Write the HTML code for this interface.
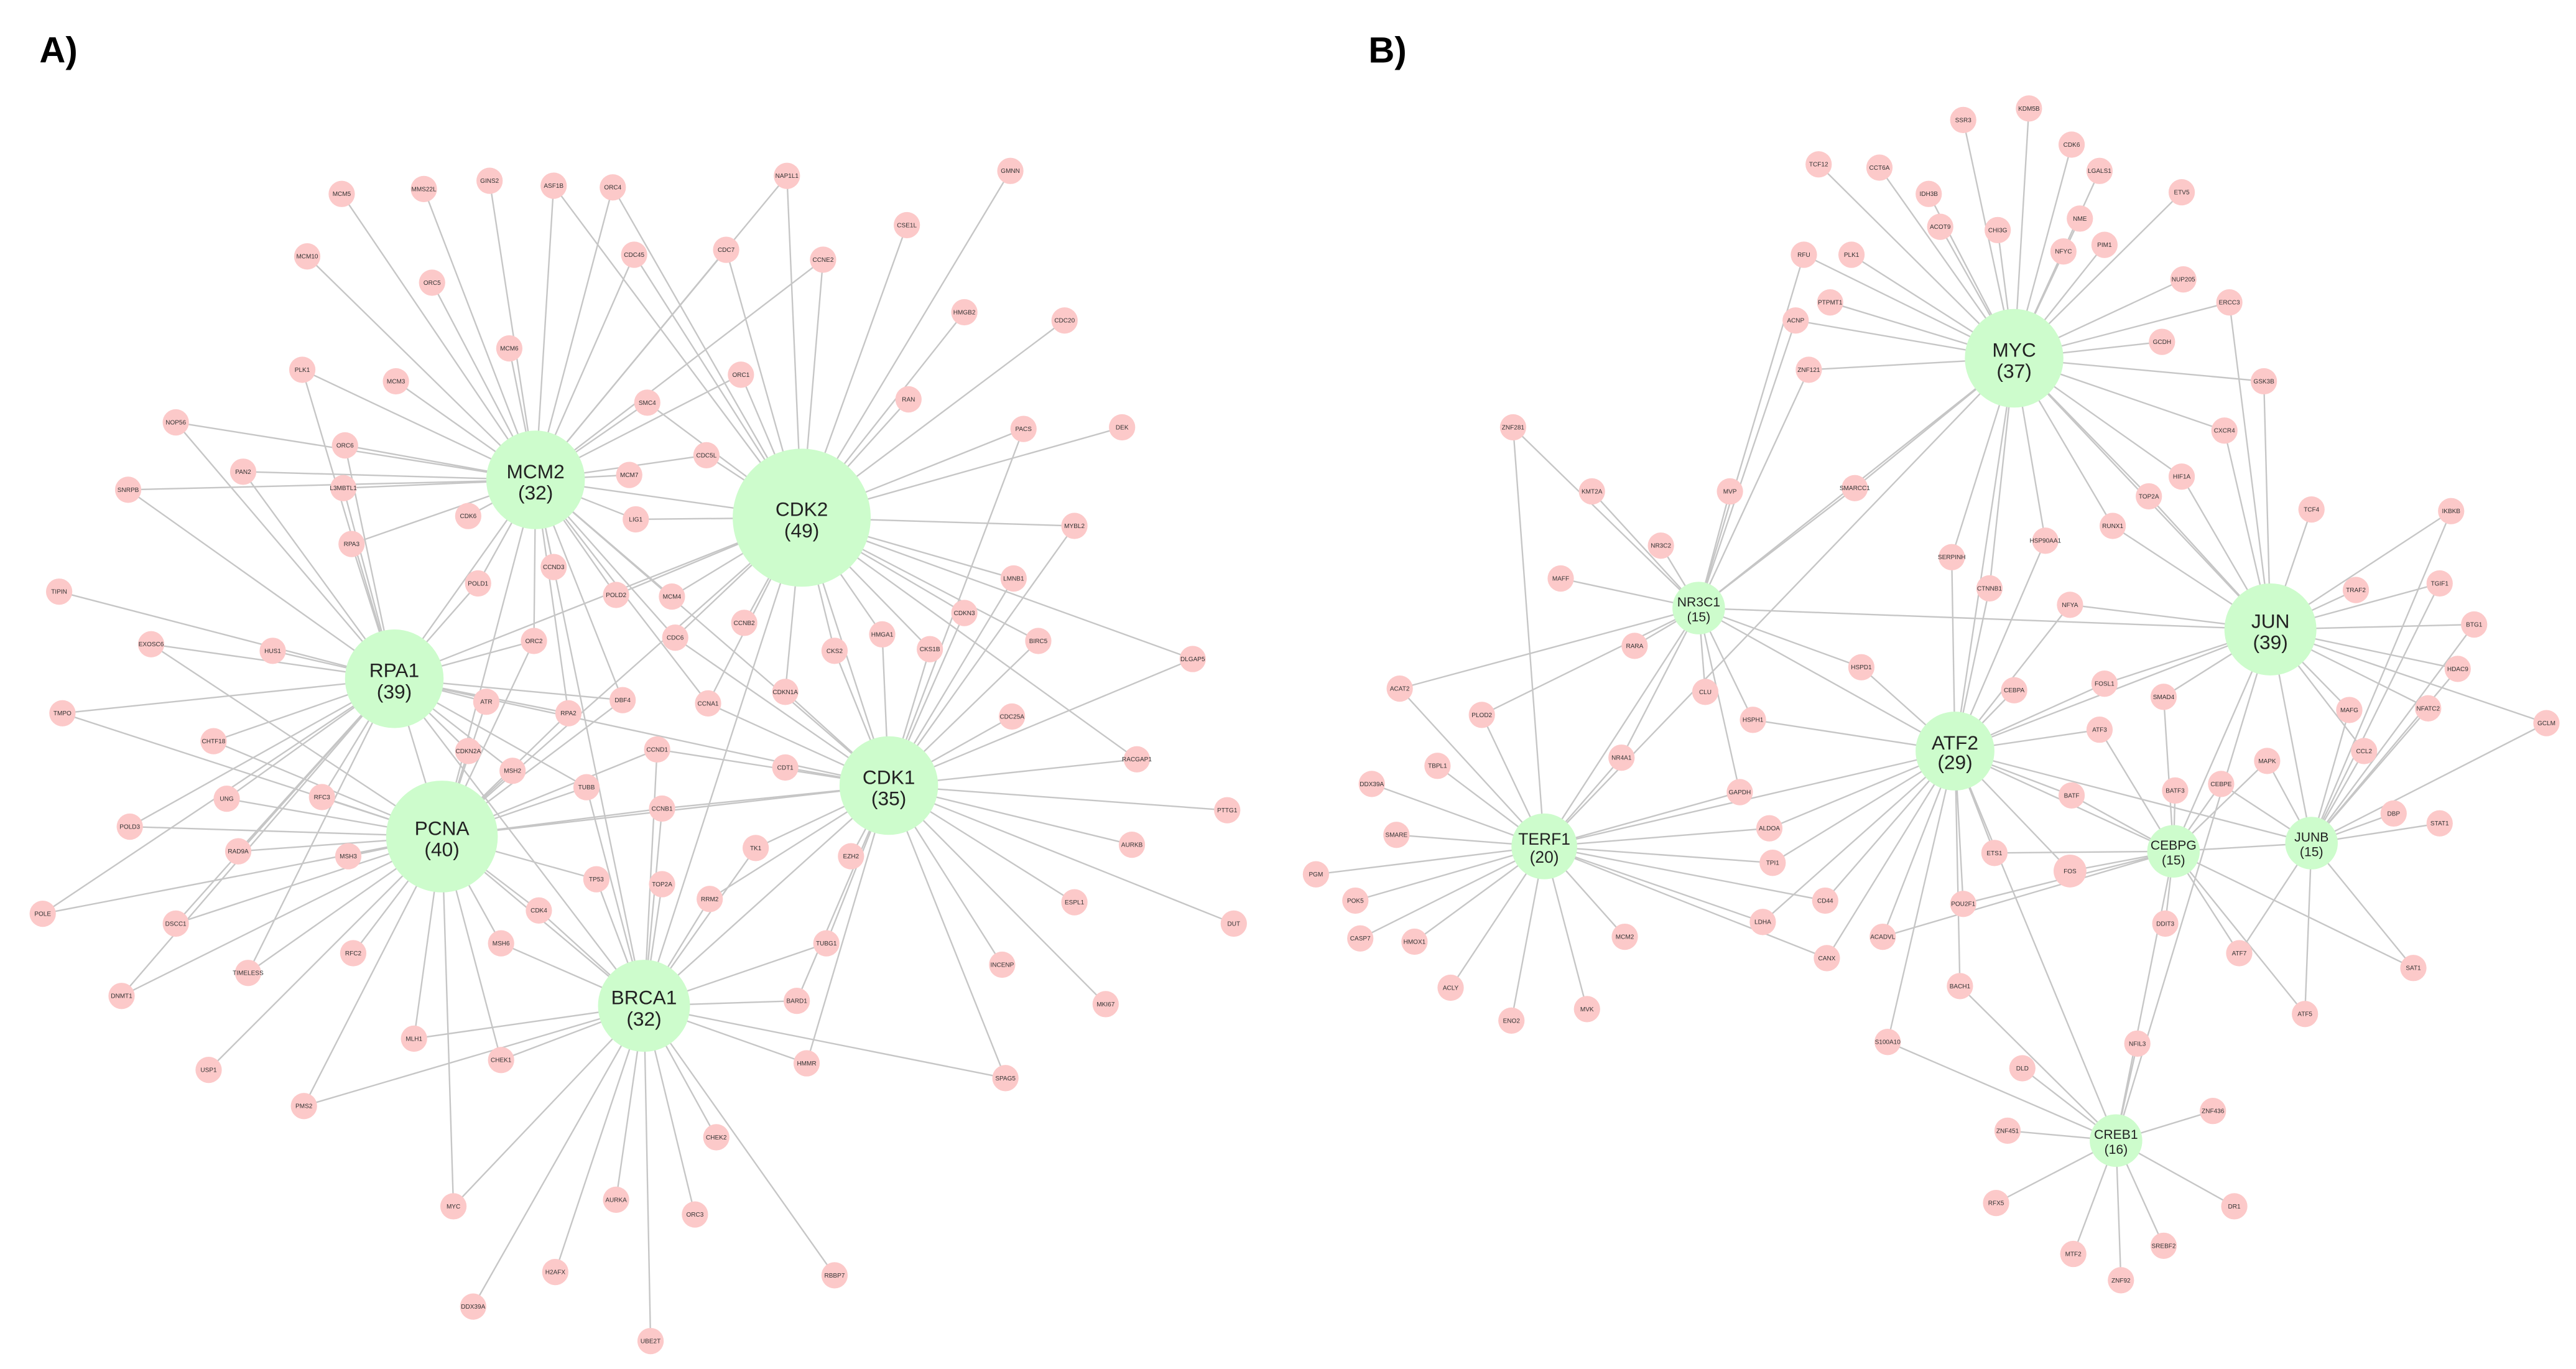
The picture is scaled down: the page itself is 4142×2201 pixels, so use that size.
<!DOCTYPE html>
<html><head><meta charset="utf-8"><style>
html,body{margin:0;padding:0;background:#fff}
svg{display:block}
.l circle{fill:#fcc9c9}
.h circle{fill:#cdfccc}
text{font-family:"Liberation Sans",sans-serif;text-anchor:middle;fill:#333}
.l text{font-size:3.8px}
.h text{font-size:12px;fill:#222}
.t{font-size:22px;font-weight:bold;text-anchor:start;fill:#000}
#e line{stroke:#c6c6c6;stroke-width:0.9}
</style></head><body>
<svg id="s" width="4142" height="2201" viewBox="0 0 1568 833" preserveAspectRatio="none" xmlns="http://www.w3.org/2000/svg">
<text class="t" x="24" y="38">A)</text>
<text class="t" x="833" y="38">B)</text>
<g id="e"></g>
<g id="n">
<!-- Panel A leaves -->
<g class="l a" transform="translate(208,118)"><circle r="8"/><text y="1.3">MCM5</text></g>
<g class="l a" transform="translate(258,115)"><circle r="8"/><text y="1.3">MMS22L</text></g>
<g class="l a" transform="translate(298,110)"><circle r="8"/><text y="1.3">GINS2</text></g>
<g class="l a" transform="translate(337,113)"><circle r="8"/><text y="1.3">ASF1B</text></g>
<g class="l a" transform="translate(373,114)"><circle r="8"/><text y="1.3">ORC4</text></g>
<g class="l a" transform="translate(479,107)"><circle r="8"/><text y="1.3">NAP1L1</text></g>
<g class="l a" transform="translate(615,104)"><circle r="8"/><text y="1.3">GMNN</text></g>
<g class="l a" transform="translate(187,156)"><circle r="8"/><text y="1.3">MCM10</text></g>
<g class="l a" transform="translate(263,172)"><circle r="8"/><text y="1.3">ORC5</text></g>
<g class="l a" transform="translate(386,155)"><circle r="8"/><text y="1.3">CDC45</text></g>
<g class="l a" transform="translate(442,152)"><circle r="8"/><text y="1.3">CDC7</text></g>
<g class="l a" transform="translate(501,158)"><circle r="8"/><text y="1.3">CCNE2</text></g>
<g class="l a" transform="translate(552,137)"><circle r="8"/><text y="1.3">CSE1L</text></g>
<g class="l a" transform="translate(587,190)"><circle r="8"/><text y="1.3">HMGB2</text></g>
<g class="l a" transform="translate(648,195)"><circle r="8"/><text y="1.3">CDC20</text></g>
<g class="l a" transform="translate(310,212)"><circle r="8"/><text y="1.3">MCM6</text></g>
<g class="l a" transform="translate(184,225)"><circle r="8"/><text y="1.3">PLK1</text></g>
<g class="l a" transform="translate(241,232)"><circle r="8"/><text y="1.3">MCM3</text></g>
<g class="l a" transform="translate(394,245)"><circle r="8"/><text y="1.3">SMC4</text></g>
<g class="l a" transform="translate(451,228)"><circle r="8"/><text y="1.3">ORC1</text></g>
<g class="l a" transform="translate(553,243)"><circle r="8"/><text y="1.3">RAN</text></g>
<g class="l a" transform="translate(107,257)"><circle r="8"/><text y="1.3">NOP56</text></g>
<g class="l a" transform="translate(210,271)"><circle r="8"/><text y="1.3">ORC6</text></g>
<g class="l a" transform="translate(430,277)"><circle r="8"/><text y="1.3">CDC5L</text></g>
<g class="l a" transform="translate(148,287)"><circle r="8"/><text y="1.3">PAN2</text></g>
<g class="l a" transform="translate(623,261)"><circle r="8"/><text y="1.3">PACS</text></g>
<g class="l a" transform="translate(683,260)"><circle r="8"/><text y="1.3">DEK</text></g>
<g class="l a" transform="translate(78,298)"><circle r="8"/><text y="1.3">SNRPB</text></g>
<g class="l a" transform="translate(209,297)"><circle r="8"/><text y="1.3">L3MBTL1</text></g>
<g class="l a" transform="translate(383,289)"><circle r="8"/><text y="1.3">MCM7</text></g>
<g class="l a" transform="translate(387,316)"><circle r="8"/><text y="1.3">LIG1</text></g>
<g class="l a" transform="translate(285,314)"><circle r="8"/><text y="1.3">CDK6</text></g>
<g class="l a" transform="translate(654,320)"><circle r="8"/><text y="1.3">MYBL2</text></g>
<g class="l a" transform="translate(214,331)"><circle r="8"/><text y="1.3">RPA3</text></g>
<g class="l a" transform="translate(291,355)"><circle r="8"/><text y="1.3">POLD1</text></g>
<g class="l a" transform="translate(337,345)"><circle r="8"/><text y="1.3">CCND3</text></g>
<g class="l a" transform="translate(375,362)"><circle r="8"/><text y="1.3">POLD2</text></g>
<g class="l a" transform="translate(409,363)"><circle r="8"/><text y="1.3">MCM4</text></g>
<g class="l a" transform="translate(617,352)"><circle r="8"/><text y="1.3">LMNB1</text></g>
<g class="l a" transform="translate(36,360)"><circle r="8"/><text y="1.3">TIPIN</text></g>
<g class="l a" transform="translate(166,396)"><circle r="8"/><text y="1.3">HUS1</text></g>
<g class="l a" transform="translate(92,392)"><circle r="8"/><text y="1.3">EXOSC6</text></g>
<g class="l a" transform="translate(411,388)"><circle r="8"/><text y="1.3">CDC6</text></g>
<g class="l a" transform="translate(453,379)"><circle r="8"/><text y="1.3">CCNB2</text></g>
<g class="l a" transform="translate(537,386)"><circle r="8"/><text y="1.3">HMGA1</text></g>
<g class="l a" transform="translate(587,373)"><circle r="8"/><text y="1.3">CDKN3</text></g>
<g class="l a" transform="translate(325,390)"><circle r="8"/><text y="1.3">ORC2</text></g>
<g class="l a" transform="translate(508,396)"><circle r="8"/><text y="1.3">CKS2</text></g>
<g class="l a" transform="translate(566,395)"><circle r="8"/><text y="1.3">CKS1B</text></g>
<g class="l a" transform="translate(632,390)"><circle r="8"/><text y="1.3">BIRC5</text></g>
<g class="l a" transform="translate(726,401)"><circle r="8"/><text y="1.3">DLGAP5</text></g>
<g class="l a" transform="translate(38,434)"><circle r="8"/><text y="1.3">TMPO</text></g>
<g class="l a" transform="translate(296,427)"><circle r="8"/><text y="1.3">ATR</text></g>
<g class="l a" transform="translate(346,434)"><circle r="8"/><text y="1.3">RPA2</text></g>
<g class="l a" transform="translate(379,426)"><circle r="8"/><text y="1.3">DBF4</text></g>
<g class="l a" transform="translate(431,428)"><circle r="8"/><text y="1.3">CCNA1</text></g>
<g class="l a" transform="translate(478,421)"><circle r="8"/><text y="1.3">CDKN1A</text></g>
<g class="l a" transform="translate(616,436)"><circle r="8"/><text y="1.3">CDC25A</text></g>
<g class="l a" transform="translate(130,451)"><circle r="8"/><text y="1.3">CHTF18</text></g>
<g class="l a" transform="translate(285,457)"><circle r="8"/><text y="1.3">CDKN2A</text></g>
<g class="l a" transform="translate(312,469)"><circle r="8"/><text y="1.3">MSH2</text></g>
<g class="l a" transform="translate(400,456)"><circle r="8"/><text y="1.3">CCND1</text></g>
<g class="l a" transform="translate(478,467)"><circle r="8"/><text y="1.3">CDT1</text></g>
<g class="l a" transform="translate(138,486)"><circle r="8"/><text y="1.3">UNG</text></g>
<g class="l a" transform="translate(196,485)"><circle r="8"/><text y="1.3">RFC3</text></g>
<g class="l a" transform="translate(357,479)"><circle r="8"/><text y="1.3">TUBB</text></g>
<g class="l a" transform="translate(403,492)"><circle r="8"/><text y="1.3">CCNB1</text></g>
<g class="l a" transform="translate(692,462)"><circle r="8"/><text y="1.3">RACGAP1</text></g>
<g class="l a" transform="translate(747,493)"><circle r="8"/><text y="1.3">PTTG1</text></g>
<g class="l a" transform="translate(79,503)"><circle r="8"/><text y="1.3">POLD3</text></g>
<g class="l a" transform="translate(145,518)"><circle r="8"/><text y="1.3">RAD9A</text></g>
<g class="l a" transform="translate(212,521)"><circle r="8"/><text y="1.3">MSH3</text></g>
<g class="l a" transform="translate(460,516)"><circle r="8"/><text y="1.3">TK1</text></g>
<g class="l a" transform="translate(518,521)"><circle r="8"/><text y="1.3">EZH2</text></g>
<g class="l a" transform="translate(689,514)"><circle r="8"/><text y="1.3">AURKB</text></g>
<g class="l a" transform="translate(363,535)"><circle r="8"/><text y="1.3">TP53</text></g>
<g class="l a" transform="translate(403,538)"><circle r="8"/><text y="1.3">TOP2A</text></g>
<g class="l a" transform="translate(432,547)"><circle r="8"/><text y="1.3">RRM2</text></g>
<g class="l a" transform="translate(26,556)"><circle r="8"/><text y="1.3">POLE</text></g>
<g class="l a" transform="translate(107,562)"><circle r="8"/><text y="1.3">DSCC1</text></g>
<g class="l a" transform="translate(328,554)"><circle r="8"/><text y="1.3">CDK4</text></g>
<g class="l a" transform="translate(654,549)"><circle r="8"/><text y="1.3">ESPL1</text></g>
<g class="l a" transform="translate(751,562)"><circle r="8"/><text y="1.3">DUT</text></g>
<g class="l a" transform="translate(215,580)"><circle r="8"/><text y="1.3">RFC2</text></g>
<g class="l a" transform="translate(151,592)"><circle r="8"/><text y="1.3">TIMELESS</text></g>
<g class="l a" transform="translate(305,574)"><circle r="8"/><text y="1.3">MSH6</text></g>
<g class="l a" transform="translate(503,574)"><circle r="8"/><text y="1.3">TUBG1</text></g>
<g class="l a" transform="translate(610,587)"><circle r="8"/><text y="1.3">INCENP</text></g>
<g class="l a" transform="translate(74,606)"><circle r="8"/><text y="1.3">DNMT1</text></g>
<g class="l a" transform="translate(485,609)"><circle r="8"/><text y="1.3">BARD1</text></g>
<g class="l a" transform="translate(673,611)"><circle r="8"/><text y="1.3">MKI67</text></g>
<g class="l a" transform="translate(252,632)"><circle r="8"/><text y="1.3">MLH1</text></g>
<g class="l a" transform="translate(305,645)"><circle r="8"/><text y="1.3">CHEK1</text></g>
<g class="l a" transform="translate(127,651)"><circle r="8"/><text y="1.3">USP1</text></g>
<g class="l a" transform="translate(491,647)"><circle r="8"/><text y="1.3">HMMR</text></g>
<g class="l a" transform="translate(612,656)"><circle r="8"/><text y="1.3">SPAG5</text></g>
<g class="l a" transform="translate(185,673)"><circle r="8"/><text y="1.3">PMS2</text></g>
<g class="l a" transform="translate(436,692)"><circle r="8"/><text y="1.3">CHEK2</text></g>
<g class="l a" transform="translate(423,739)"><circle r="8"/><text y="1.3">ORC3</text></g>
<g class="l a" transform="translate(375,730)"><circle r="8"/><text y="1.3">AURKA</text></g>
<g class="l a" transform="translate(276,734)"><circle r="8"/><text y="1.3">MYC</text></g>
<g class="l a" transform="translate(338,774)"><circle r="8"/><text y="1.3">H2AFX</text></g>
<g class="l a" transform="translate(508,776)"><circle r="8"/><text y="1.3">RBBP7</text></g>
<g class="l a" transform="translate(288,795)"><circle r="8"/><text y="1.3">DDX39A</text></g>
<g class="l a" transform="translate(396,816)"><circle r="8"/><text y="1.3">UBE2T</text></g>
<!-- Panel B leaves -->
<g class="l b" transform="translate(1235,66)"><circle r="8"/><text y="1.3">KDM5B</text></g>
<g class="l b" transform="translate(1195,73)"><circle r="8"/><text y="1.3">SSR3</text></g>
<g class="l b" transform="translate(1261,88)"><circle r="8"/><text y="1.3">CDK6</text></g>
<g class="l b" transform="translate(1107,100)"><circle r="8"/><text y="1.3">TCF12</text></g>
<g class="l b" transform="translate(1144,102)"><circle r="8"/><text y="1.3">CCT6A</text></g>
<g class="l b" transform="translate(1174,118)"><circle r="8"/><text y="1.3">IDH3B</text></g>
<g class="l b" transform="translate(1216,140)"><circle r="8"/><text y="1.3">CHI3G</text></g>
<g class="l b" transform="translate(1278,104)"><circle r="8"/><text y="1.3">LGALS1</text></g>
<g class="l b" transform="translate(1328,117)"><circle r="8"/><text y="1.3">ETV5</text></g>
<g class="l b" transform="translate(1181,138)"><circle r="8"/><text y="1.3">ACOT9</text></g>
<g class="l b" transform="translate(1266,133)"><circle r="8"/><text y="1.3">NME</text></g>
<g class="l b" transform="translate(1098,155)"><circle r="8"/><text y="1.3">RFU</text></g>
<g class="l b" transform="translate(1127,155)"><circle r="8"/><text y="1.3">PLK1</text></g>
<g class="l b" transform="translate(1256,153)"><circle r="8"/><text y="1.3">NFYC</text></g>
<g class="l b" transform="translate(1281,149)"><circle r="8"/><text y="1.3">PIM1</text></g>
<g class="l b" transform="translate(1114,184)"><circle r="8"/><text y="1.3">PTPMT1</text></g>
<g class="l b" transform="translate(1329,170)"><circle r="8"/><text y="1.3">NUP205</text></g>
<g class="l b" transform="translate(1357,184)"><circle r="8"/><text y="1.3">ERCC3</text></g>
<g class="l b" transform="translate(1093,195)"><circle r="8"/><text y="1.3">ACNP</text></g>
<g class="l b" transform="translate(1316,208)"><circle r="8"/><text y="1.3">GCDH</text></g>
<g class="l b" transform="translate(1101,225)"><circle r="8"/><text y="1.3">ZNF121</text></g>
<g class="l b" transform="translate(1378,232)"><circle r="8"/><text y="1.3">GSK3B</text></g>
<g class="l b" transform="translate(921,260)"><circle r="8"/><text y="1.3">ZNF281</text></g>
<g class="l b" transform="translate(1354,262)"><circle r="8"/><text y="1.3">CXCR4</text></g>
<g class="l b" transform="translate(1328,290)"><circle r="8"/><text y="1.3">HIF1A</text></g>
<g class="l b" transform="translate(1129,297)"><circle r="8"/><text y="1.3">SMARCC1</text></g>
<g class="l b" transform="translate(969,299)"><circle r="8"/><text y="1.3">KMT2A</text></g>
<g class="l b" transform="translate(1053,299)"><circle r="8"/><text y="1.3">MVP</text></g>
<g class="l b" transform="translate(1308,302)"><circle r="8"/><text y="1.3">TOP2A</text></g>
<g class="l b" transform="translate(1286,320)"><circle r="8"/><text y="1.3">RUNX1</text></g>
<g class="l b" transform="translate(1407,310)"><circle r="8"/><text y="1.3">TCF4</text></g>
<g class="l b" transform="translate(1492,311)"><circle r="8"/><text y="1.3">IKBKB</text></g>
<g class="l b" transform="translate(1011,332)"><circle r="8"/><text y="1.3">NR3C2</text></g>
<g class="l b" transform="translate(1188,339)"><circle r="8"/><text y="1.3">SERPINH</text></g>
<g class="l b" transform="translate(1245,329)"><circle r="8"/><text y="1.3">HSP90AA1</text></g>
<g class="l b" transform="translate(950,352)"><circle r="8"/><text y="1.3">MAFF</text></g>
<g class="l b" transform="translate(1434,359)"><circle r="8"/><text y="1.3">TRAF2</text></g>
<g class="l b" transform="translate(1485,355)"><circle r="8"/><text y="1.3">TGIF1</text></g>
<g class="l b" transform="translate(1211,358)"><circle r="8"/><text y="1.3">CTNNB1</text></g>
<g class="l b" transform="translate(1260,368)"><circle r="8"/><text y="1.3">NFYA</text></g>
<g class="l b" transform="translate(995,393)"><circle r="8"/><text y="1.3">RARA</text></g>
<g class="l b" transform="translate(1133,406)"><circle r="8"/><text y="1.3">HSPD1</text></g>
<g class="l b" transform="translate(1506,380)"><circle r="8"/><text y="1.3">BTG1</text></g>
<g class="l b" transform="translate(1496,407)"><circle r="8"/><text y="1.3">HDAC9</text></g>
<g class="l b" transform="translate(1038,421)"><circle r="8"/><text y="1.3">CLU</text></g>
<g class="l b" transform="translate(1281,416)"><circle r="8"/><text y="1.3">FOSL1</text></g>
<g class="l b" transform="translate(1317,424)"><circle r="8"/><text y="1.3">SMAD4</text></g>
<g class="l b" transform="translate(1430,432)"><circle r="8"/><text y="1.3">MAFG</text></g>
<g class="l b" transform="translate(1478,431)"><circle r="8"/><text y="1.3">NFATC2</text></g>
<g class="l b" transform="translate(852,419)"><circle r="8"/><text y="1.3">ACAT2</text></g>
<g class="l b" transform="translate(1226,420)"><circle r="8"/><text y="1.3">CEBPA</text></g>
<g class="l b" transform="translate(1550,440)"><circle r="8"/><text y="1.3">GCLM</text></g>
<g class="l b" transform="translate(902,435)"><circle r="8"/><text y="1.3">PLOD2</text></g>
<g class="l b" transform="translate(1067,438)"><circle r="8"/><text y="1.3">HSPH1</text></g>
<g class="l b" transform="translate(1278,444)"><circle r="8"/><text y="1.3">ATF3</text></g>
<g class="l b" transform="translate(987,461)"><circle r="8"/><text y="1.3">NR4A1</text></g>
<g class="l b" transform="translate(1439,457)"><circle r="8"/><text y="1.3">CCL2</text></g>
<g class="l b" transform="translate(875,466)"><circle r="8"/><text y="1.3">TBPL1</text></g>
<g class="l b" transform="translate(835,477)"><circle r="8"/><text y="1.3">DDX39A</text></g>
<g class="l b" transform="translate(1261,484)"><circle r="8"/><text y="1.3">BATF</text></g>
<g class="l b" transform="translate(1324,481)"><circle r="8"/><text y="1.3">BATF3</text></g>
<g class="l b" transform="translate(1352,477)"><circle r="8"/><text y="1.3">CEBPE</text></g>
<g class="l b" transform="translate(1380,463)"><circle r="8"/><text y="1.3">MAPK</text></g>
<g class="l b" transform="translate(1457,495)"><circle r="8"/><text y="1.3">DBP</text></g>
<g class="l b" transform="translate(1485,501)"><circle r="8"/><text y="1.3">STAT1</text></g>
<g class="l b" transform="translate(1059,482)"><circle r="8"/><text y="1.3">GAPDH</text></g>
<g class="l b" transform="translate(850,508)"><circle r="8"/><text y="1.3">SMARE</text></g>
<g class="l b" transform="translate(1077,504)"><circle r="8"/><text y="1.3">ALDOA</text></g>
<g class="l b" transform="translate(1214,519)"><circle r="8"/><text y="1.3">ETS1</text></g>
<g class="l b" transform="translate(1260,530)"><circle r="10"/><text y="1.3">FOS</text></g>
<g class="l b" transform="translate(801,532)"><circle r="8"/><text y="1.3">PGM</text></g>
<g class="l b" transform="translate(825,548)"><circle r="8"/><text y="1.3">POK5</text></g>
<g class="l b" transform="translate(1079,525)"><circle r="8"/><text y="1.3">TPI1</text></g>
<g class="l b" transform="translate(1195,550)"><circle r="8"/><text y="1.3">POU2F1</text></g>
<g class="l b" transform="translate(1318,562)"><circle r="8"/><text y="1.3">DDIT3</text></g>
<g class="l b" transform="translate(828,571)"><circle r="8"/><text y="1.3">CASP7</text></g>
<g class="l b" transform="translate(861,573)"><circle r="8"/><text y="1.3">HMOX1</text></g>
<g class="l b" transform="translate(1111,548)"><circle r="8"/><text y="1.3">CD44</text></g>
<g class="l b" transform="translate(883,601)"><circle r="8"/><text y="1.3">ACLY</text></g>
<g class="l b" transform="translate(989,570)"><circle r="8"/><text y="1.3">MCM2</text></g>
<g class="l b" transform="translate(1112,583)"><circle r="8"/><text y="1.3">CANX</text></g>
<g class="l b" transform="translate(1146,570)"><circle r="8"/><text y="1.3">ACADVL</text></g>
<g class="l b" transform="translate(1073,561)"><circle r="8"/><text y="1.3">LDHA</text></g>
<g class="l b" transform="translate(1363,580)"><circle r="8"/><text y="1.3">ATF7</text></g>
<g class="l b" transform="translate(1469,589)"><circle r="8"/><text y="1.3">SAT1</text></g>
<g class="l b" transform="translate(920,621)"><circle r="8"/><text y="1.3">ENO2</text></g>
<g class="l b" transform="translate(966,614)"><circle r="8"/><text y="1.3">MVK</text></g>
<g class="l b" transform="translate(1193,600)"><circle r="8"/><text y="1.3">BACH1</text></g>
<g class="l b" transform="translate(1403,617)"><circle r="8"/><text y="1.3">ATF5</text></g>
<g class="l b" transform="translate(1149,634)"><circle r="8"/><text y="1.3">S100A10</text></g>
<g class="l b" transform="translate(1301,635)"><circle r="8"/><text y="1.3">NFIL3</text></g>
<g class="l b" transform="translate(1231,650)"><circle r="8"/><text y="1.3">DLD</text></g>
<g class="l b" transform="translate(1222,688)"><circle r="8"/><text y="1.3">ZNF451</text></g>
<g class="l b" transform="translate(1347,676)"><circle r="8"/><text y="1.3">ZNF436</text></g>
<g class="l b" transform="translate(1215,732)"><circle r="8"/><text y="1.3">RFX5</text></g>
<g class="l b" transform="translate(1360,734)"><circle r="8"/><text y="1.3">DR1</text></g>
<g class="l b" transform="translate(1262,763)"><circle r="8"/><text y="1.3">MTF2</text></g>
<g class="l b" transform="translate(1317,758)"><circle r="8"/><text y="1.3">SREBF2</text></g>
<g class="l b" transform="translate(1291,779)"><circle r="8"/><text y="1.3">ZNF92</text></g>
<!-- hubs -->
<g class="h a" transform="translate(326,292)"><circle r="30"/><text y="-1">MCM2</text><text y="12">(32)</text></g>
<g class="h a" transform="translate(488,315)"><circle r="42"/><text y="-1">CDK2</text><text y="12">(49)</text></g>
<g class="h a" transform="translate(240,413)"><circle r="30"/><text y="-1">RPA1</text><text y="12">(39)</text></g>
<g class="h a" transform="translate(269,509)"><circle r="34"/><text y="-1">PCNA</text><text y="12">(40)</text></g>
<g class="h a" transform="translate(541,478)"><circle r="30"/><text y="-1">CDK1</text><text y="12">(35)</text></g>
<g class="h a" transform="translate(392,612)"><circle r="28"/><text y="-1">BRCA1</text><text y="12">(32)</text></g>
<g class="h b" transform="translate(1226,218)"><circle r="30"/><text y="-1">MYC</text><text y="12">(37)</text></g>
<g class="h b" transform="translate(1034,370)"><circle r="16" /><text y="-1" style="font-size:8px">NR3C1</text><text y="8" style="font-size:8px">(15)</text></g>
<g class="h b" transform="translate(1382,383)"><circle r="28"/><text y="-1">JUN</text><text y="12">(39)</text></g>
<g class="h b" transform="translate(1190,457)"><circle r="24"/><text y="-1">ATF2</text><text y="11">(29)</text></g>
<g class="h b" transform="translate(940,515)"><circle r="20"/><text y="-1" style="font-size:10px">TERF1</text><text y="10" style="font-size:10px">(20)</text></g>
<g class="h b" transform="translate(1323,518)"><circle r="16"/><text y="-1" style="font-size:8px">CEBPG</text><text y="8" style="font-size:8px">(15)</text></g>
<g class="h b" transform="translate(1407,513)"><circle r="16"/><text y="-1" style="font-size:8px">JUNB</text><text y="8" style="font-size:8px">(15)</text></g>
<g class="h b" transform="translate(1288,694)"><circle r="16"/><text y="-1" style="font-size:8px">CREB1</text><text y="8" style="font-size:8px">(16)</text></g>
</g>
</svg>
<script>
(function(){
var ns="http://www.w3.org/2000/svg",E=document.getElementById("e");
function pos(g){var m=g.transform.baseVal[0].matrix;return [m.e,m.f];}
function ln(a,b){var l=document.createElementNS(ns,"line");l.setAttribute("x1",a[0]);l.setAttribute("y1",a[1]);l.setAttribute("x2",b[0]);l.setAttribute("y2",b[1]);E.appendChild(l);}
["a","b"].forEach(function(p){
 var hubs=[].slice.call(document.querySelectorAll(".h."+p)).map(pos);
 var leaves=[].slice.call(document.querySelectorAll(".l."+p)).map(pos);
 leaves.forEach(function(L,i){
  var d=hubs.map(function(H,j){return [Math.hypot(H[0]-L[0],H[1]-L[1]),j];}).sort(function(x,y){return x[0]-y[0];});
  ln(L,hubs[d[0][1]]);
  if(d[1][0]<d[0][0]*1.7&&d[1][0]<260) ln(L,hubs[d[1][1]]);
  if(p=="a"&&d[2][0]<d[0][0]*1.6&&d[2][0]<200) ln(L,hubs[d[2][1]]);
 });
 var pairs=p=="a"?[[0,1],[0,2],[0,3],[0,4],[0,5],[1,2],[1,3],[1,4],[1,5],[2,3],[2,4],[2,5],[3,4],[3,5],[4,5]]
  :[[0,2],[0,3],[0,1],[0,4],[2,3],[2,5],[2,6],[2,7],[3,5],[3,6],[3,7],[5,6],[1,3],[1,2],[4,3],[4,1],[5,7]];
 pairs.forEach(function(q){ln(hubs[q[0]],hubs[q[1]]);});
});
})();
</script>
</body></html>
